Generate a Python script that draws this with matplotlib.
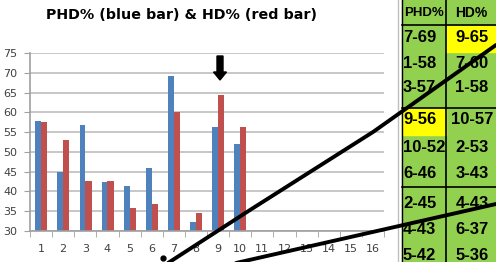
import matplotlib.pyplot as plt
import numpy as np

# chart data
categories = list(range(1, 17))
phd = [57.7, 44.8, 56.8, 42.5, 41.5, 46.0, 69.2, 32.4, 56.3, 52.0]
hd = [57.6, 53.0, 42.6, 42.6, 35.8, 36.8, 60.0, 34.5, 64.5, 56.4]

# ranking table beside the chart
table_phd = ["7-69", "1-58", "3-57", "9-56", "10-52", "6-46", "2-45", "4-43", "5-42"]
table_hd = ["9-65", "7-60", "1-58", "10-57", "2-53", "3-43", "4-43", "6-37", "5-36"]

blue = "#4F81BD"
red = "#C0504D"
green = "#92D050"
W, H = 496, 262

fig = plt.figure(figsize=(W / 100, H / 100), dpi=100)

# overlay in pixel coordinates for frame, table and hand drawn marks
ov = fig.add_axes([0, 0, 1, 1], zorder=0)
ov.set_xlim(0, W)
ov.set_ylim(H, 0)
ov.axis("off")

# chart frame
ov.plot([397.5, 397.5], [0, H], color="#BFBFBF", lw=1)

# bar chart
ax = fig.add_axes([30 / W, 1 - 231 / H, (384 - 30) / W, (231 - 53) / H], zorder=1)
ax.patch.set_alpha(0)
x = np.arange(1, len(phd) + 1)
ax.bar(x - 0.13, phd, width=0.26, color=blue, zorder=2)
ax.bar(x + 0.14, hd, width=0.28, color=red, zorder=2)
ax.set_xlim(0.5, 16.5)
ax.set_ylim(30, 75)
ax.set_yticks(range(30, 80, 5))
ax.set_xticks(categories)
ax.set_xticks(np.arange(0.5, 17, 1), minor=True)
ax.tick_params(axis="x", which="major", length=0, pad=9, labelsize=8, colors="#404040")
ax.tick_params(axis="x", which="minor", length=4, color="#A0A0A0")
ax.tick_params(axis="y", length=4, color="#A0A0A0", labelsize=8, colors="#404040", pad=5)
ax.yaxis.grid(True, color="#BDBDBD", lw=1.2, zorder=0)
for s in ["top", "right"]:
    ax.spines[s].set_visible(False)
ax.spines["left"].set_color("#A0A0A0")
ax.spines["bottom"].set_color("#A0A0A0")
ax.spines["left"].set_linewidth(1.2)
ax.spines["bottom"].set_linewidth(1.2)

fig.text(182 / W, 1 - 15 / H, "PHD% (blue bar) & HD% (red bar)", ha="center", va="center",
         fontsize=10.3, fontweight="bold")

# table
top = fig.add_axes([0, 0, 1, 1], zorder=3)
top.set_xlim(0, W)
top.set_ylim(H, 0)
top.axis("off")
top.add_patch(plt.Rectangle((402, 0), W - 402, H, color=green, zorder=1))
top.add_patch(plt.Rectangle((446, 26), 50, 26, color="#FFFF00", zorder=2))
top.add_patch(plt.Rectangle((402, 108), 44, 27, color="#FFFF00", zorder=2))
top.plot([402, 402], [0, H], color="black", lw=1, zorder=3)
top.plot([446, 446], [0, H], color="black", lw=1.2, zorder=3)
for yy in [25, 108, 187]:
    top.plot([402, W], [yy, yy], color="black", lw=1.2, zorder=3)

fam = "Liberation Sans"
top.text(424, 13, "PHD%", ha="center", va="center", fontsize=9.5, fontweight="bold", family=fam, zorder=4)
top.text(471, 13, "HD%", ha="center", va="center", fontsize=10, fontweight="bold", family=fam, zorder=4)
rows_y = [38, 63, 88, 120, 147, 173, 203, 229, 255]
for a, b, yy in zip(table_phd, table_hd, rows_y):
    top.text(403, yy, a, ha="left", va="center", fontsize=12, fontweight="bold", family=fam, zorder=4)
    top.text(472, yy, b, ha="center", va="center", fontsize=12, fontweight="bold", family=fam, zorder=4)

# arrow above bar 9
top.add_patch(plt.Polygon([(217, 56), (223, 56), (223, 72), (226.5, 72), (220, 80),
                           (213.5, 72), (217, 72)], color="black", zorder=4))

# hand drawn lines
top.plot([168, 250, 373, 496], [263, 210, 132, 45], color="black", lw=2.8,
         solid_capstyle="round", zorder=5)
top.plot([236, 496], [263, 204], color="black", lw=2.8, solid_capstyle="round", zorder=5)
top.plot([163], [258], "o", color="black", ms=3.5, zorder=5)

fig.savefig("out.png", dpi=100)
